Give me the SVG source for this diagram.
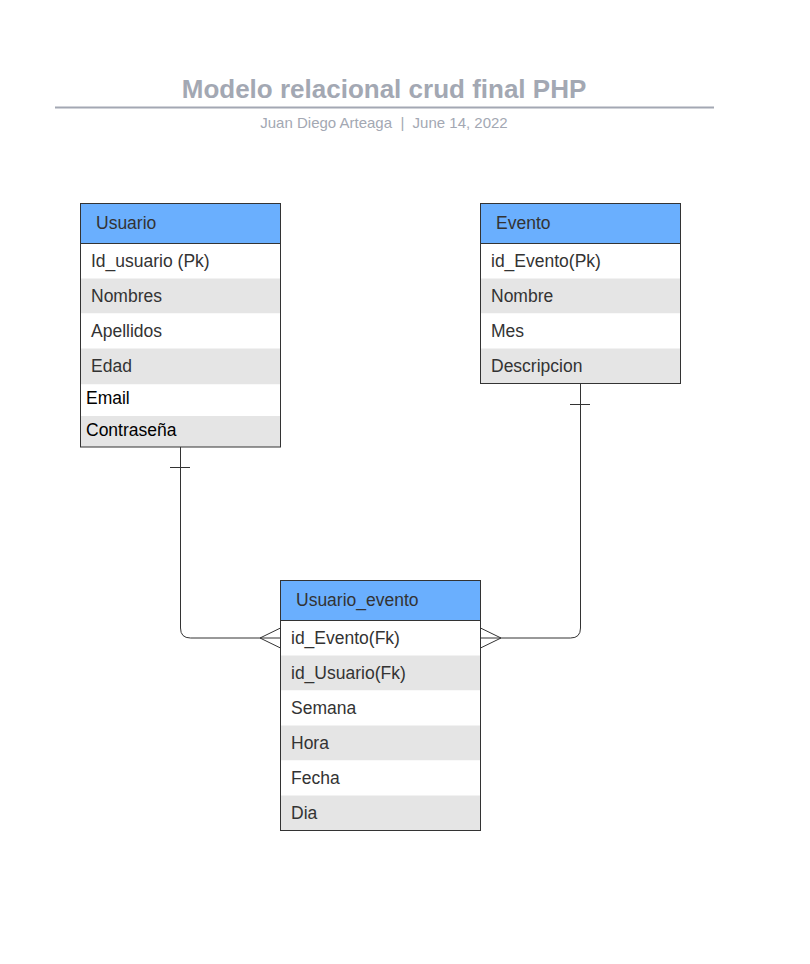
<svg xmlns="http://www.w3.org/2000/svg" width="810" height="964" viewBox="0 0 810 964">
<style>
.hdr{fill:#6aaffe;stroke:none}
.w{fill:#ffffff}
.g{fill:#e5e5e5}
.frame{fill:none;stroke:#333333;stroke-width:1}
.sep{stroke:#333333;stroke-width:1}
.t{font-family:"Liberation Sans",Arial,sans-serif;font-size:17.5px;fill:#333333}
.tb{font-family:"Liberation Sans",Arial,sans-serif;font-size:17.5px;fill:#000000}
.conn{fill:none;stroke:#333333;stroke-width:1}
</style>
<rect width="810" height="964" fill="#ffffff"/>
<g id="title">
<text x="384" y="98" text-anchor="middle" font-family="Liberation Sans,Arial,sans-serif" font-size="26" font-weight="bold" fill="#a3a8b3">Modelo relacional crud final PHP</text>
<line x1="55" y1="107.5" x2="714" y2="107.5" stroke="#a3a8b3" stroke-width="2"/>
<text x="384" y="128" text-anchor="middle" font-family="Liberation Sans,Arial,sans-serif" font-size="15" fill="#a3a8b3" xml:space="preserve" style="white-space:pre">Juan Diego Arteaga  |  June 14, 2022</text>
</g>
<g id="connectors">
<path class="conn" d="M180.5 447 V628 Q180.5 638 190.5 638 H280.5"/>
<line class="conn" x1="170" y1="467.5" x2="190" y2="467.5"/>
<path class="conn" d="M280.5 628 L260 638 L280.5 648"/>
<path class="conn" d="M580.5 383.5 V628 Q580.5 638 570.5 638 H480.5"/>
<line class="conn" x1="570" y1="404.5" x2="590" y2="404.5"/>
<path class="conn" d="M480.5 628 L501 638 L480.5 648"/>
</g>
<g id="usuario">
<rect class="hdr" x="80.5" y="203.5" width="200" height="40"/>
<rect class="w" x="80.5" y="243.5" width="200" height="35"/>
<rect class="g" x="80.5" y="278.5" width="200" height="35"/>
<rect class="w" x="80.5" y="313.5" width="200" height="35"/>
<rect class="g" x="80.5" y="348.5" width="200" height="36"/>
<rect class="w" x="80.5" y="384.5" width="200" height="31.5"/>
<rect class="g" x="80.5" y="416" width="200" height="31"/>
<line class="sep" x1="80.5" y1="243.5" x2="280.5" y2="243.5"/>
<rect class="frame" x="80.5" y="203.5" width="200" height="243.5"/>
<text class="t" x="96" y="229">Usuario</text>
<text class="t" x="91" y="267">Id_usuario (Pk)</text>
<text class="t" x="91" y="302">Nombres</text>
<text class="t" x="91" y="337">Apellidos</text>
<text class="t" x="91" y="372">Edad</text>
<text class="tb" x="86" y="404">Email</text>
<text class="tb" x="86" y="436">Contraseña</text>
</g>
<g id="evento">
<rect class="hdr" x="480.5" y="203.5" width="200" height="40"/>
<rect class="w" x="480.5" y="243.5" width="200" height="35"/>
<rect class="g" x="480.5" y="278.5" width="200" height="35"/>
<rect class="w" x="480.5" y="313.5" width="200" height="35"/>
<rect class="g" x="480.5" y="348.5" width="200" height="35"/>
<line class="sep" x1="480.5" y1="243.5" x2="680.5" y2="243.5"/>
<rect class="frame" x="480.5" y="203.5" width="200" height="180"/>
<text class="t" x="496" y="229">Evento</text>
<text class="t" x="491" y="267">id_Evento(Pk)</text>
<text class="t" x="491" y="302">Nombre</text>
<text class="t" x="491" y="337">Mes</text>
<text class="t" x="491" y="372">Descripcion</text>
</g>
<g id="usuario_evento">
<rect class="hdr" x="280.5" y="580.5" width="200" height="40"/>
<rect class="w" x="280.5" y="620.5" width="200" height="35"/>
<rect class="g" x="280.5" y="655.5" width="200" height="35"/>
<rect class="w" x="280.5" y="690.5" width="200" height="35"/>
<rect class="g" x="280.5" y="725.5" width="200" height="35"/>
<rect class="w" x="280.5" y="760.5" width="200" height="35"/>
<rect class="g" x="280.5" y="795.5" width="200" height="35"/>
<line class="sep" x1="280.5" y1="620.5" x2="480.5" y2="620.5"/>
<rect class="frame" x="280.5" y="580.5" width="200" height="250"/>
<text class="t" x="296" y="606">Usuario_evento</text>
<text class="t" x="291" y="644">id_Evento(Fk)</text>
<text class="t" x="291" y="679">id_Usuario(Fk)</text>
<text class="t" x="291" y="714">Semana</text>
<text class="t" x="291" y="749">Hora</text>
<text class="t" x="291" y="784">Fecha</text>
<text class="t" x="291" y="819">Dia</text>
</g>
</svg>
